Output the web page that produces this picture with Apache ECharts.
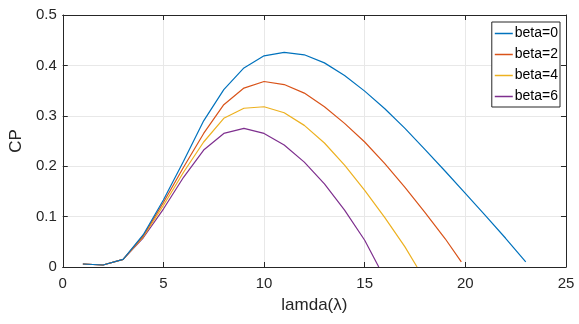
<!DOCTYPE html>
<html>
<head>
<meta charset="utf-8">
<script src="https://cdn.jsdelivr.net/npm/echarts@6/dist/echarts.min.js"></script>
<style>
  html, body { margin: 0; padding: 0; background: #fff; }
  #chart { width: 579px; height: 324px; }
</style>
</head>
<body>
<div id="chart"></div>
<script>
// CP vs tip speed ratio for different pitch angles
const seriesNames = ['beta=0', 'beta=2', 'beta=4', 'beta=6'];

const lamdaBeta0 = [1, 2, 3, 4, 5, 6, 7, 8, 9, 10, 11, 12, 13, 14, 15, 16, 17, 18, 19, 20, 21, 22, 23];
const cpBeta0 = [0.006, 0.004, 0.015, 0.064, 0.133, 0.21, 0.29, 0.352, 0.395, 0.419, 0.426, 0.421, 0.405, 0.38, 0.349, 0.314, 0.275, 0.233, 0.19, 0.146, 0.102, 0.057, 0.01];

const lamdaBeta2 = [1, 2, 3, 4, 5, 6, 7, 8, 9, 10, 11, 12, 13, 14, 15, 16, 17, 18, 19, 19.8];
const cpBeta2 = [0.006, 0.004, 0.015, 0.062, 0.128, 0.198, 0.265, 0.322, 0.355, 0.368, 0.362, 0.345, 0.318, 0.285, 0.248, 0.205, 0.158, 0.108, 0.056, 0.01];

const lamdaBeta4 = [1, 2, 3, 4, 5, 6, 7, 8, 9, 10, 11, 12, 13, 14, 15, 16, 17, 17.6];
const cpBeta4 = [0.006, 0.004, 0.015, 0.06, 0.122, 0.188, 0.248, 0.295, 0.315, 0.318, 0.306, 0.281, 0.246, 0.202, 0.152, 0.098, 0.04, 0];

const lamdaBeta6 = [1, 2, 3, 4, 5, 6, 7, 8, 9, 10, 11, 12, 13, 14, 15, 15.7];
const cpBeta6 = [0.006, 0.004, 0.015, 0.058, 0.115, 0.178, 0.232, 0.265, 0.275, 0.265, 0.242, 0.208, 0.165, 0.113, 0.053, 0];

const xTicks = [0, 5, 10, 15, 20, 25];
const yTicks = [0, 0.1, 0.2, 0.3, 0.4, 0.5];

const lineColors = ['#0072BD', '#D95319', '#EDB120', '#7E2F8E'];
const axisColor = '#262626';
const font = '"Liberation Sans", Arial, Helvetica, sans-serif';

const pairs = (xs, ys) => xs.map((x, i) => [x, ys[i]]);
const allData = [
  pairs(lamdaBeta0, cpBeta0),
  pairs(lamdaBeta2, cpBeta2),
  pairs(lamdaBeta4, cpBeta4),
  pairs(lamdaBeta6, cpBeta6),
];

const chart = echarts.init(document.getElementById('chart'), null, { renderer: 'canvas' });

const baseX = {
  type: 'value',
  min: xTicks[0],
  max: xTicks[xTicks.length - 1],
  interval: 5,
  axisLine: { show: true, onZero: false, lineStyle: { color: axisColor, width: 1 } },
  axisTick: { show: true, inside: true, length: 5, lineStyle: { color: axisColor } },
};
const baseY = {
  type: 'value',
  min: yTicks[0],
  max: yTicks[yTicks.length - 1],
  interval: 0.1,
  axisLine: { show: true, onZero: false, lineStyle: { color: axisColor, width: 1 } },
  axisTick: { show: true, inside: true, length: 5, lineStyle: { color: axisColor } },
};

const option = {
  animation: false,
  backgroundColor: '#fff',
  grid: { left: 61, right: 13, top: 15, bottom: 57, containLabel: false },
  legend: {
    orient: 'vertical',
    right: 19,
    top: 22,
    data: seriesNames,
    icon: 'rect',
    itemWidth: 18,
    itemHeight: 1.5,
    itemGap: 6,
    backgroundColor: '#fff',
    borderColor: axisColor,
    borderWidth: 1,
    borderRadius: 0,
    padding: [4, 2, 3, 3],
    textStyle: { fontFamily: font, fontSize: 14, color: '#000', lineHeight: 15, padding: [0, 0, 0, -3] },
  },
  xAxis: [
    {
      ...baseX,
      position: 'bottom',
      name: 'lamda(λ)',
      nameLocation: 'middle',
      nameGap: 30,
      nameTextStyle: { fontFamily: font, fontSize: 17, color: axisColor },
      axisLabel: { fontFamily: font, fontSize: 15, color: axisColor, margin: 9 },
      splitLine: { show: true, lineStyle: { color: '#e8e8e8', width: 1 } },
    },
    {
      ...baseX,
      position: 'top',
      axisLabel: { show: false },
      splitLine: { show: false },
    },
  ],
  yAxis: [
    {
      ...baseY,
      position: 'left',
      name: 'CP',
      nameLocation: 'middle',
      nameGap: 31,
      nameTextStyle: { fontFamily: font, fontSize: 17, color: axisColor },
      axisLabel: { fontFamily: font, fontSize: 15, color: axisColor, margin: 6 },
      splitLine: { show: true, lineStyle: { color: '#e8e8e8', width: 1 } },
    },
    {
      ...baseY,
      position: 'right',
      axisLabel: { show: false },
      splitLine: { show: false },
    },
  ],
  series: seriesNames.map((name, i) => ({
    name,
    type: 'line',
    xAxisIndex: 0,
    yAxisIndex: 0,
    data: allData[i],
    symbol: 'none',
    smooth: false,
    lineStyle: { color: lineColors[i], width: 1.2 },
    itemStyle: { color: lineColors[i] },
    z: 3 - i,
  })),
};

chart.setOption(option);
</script>
</body>
</html>
